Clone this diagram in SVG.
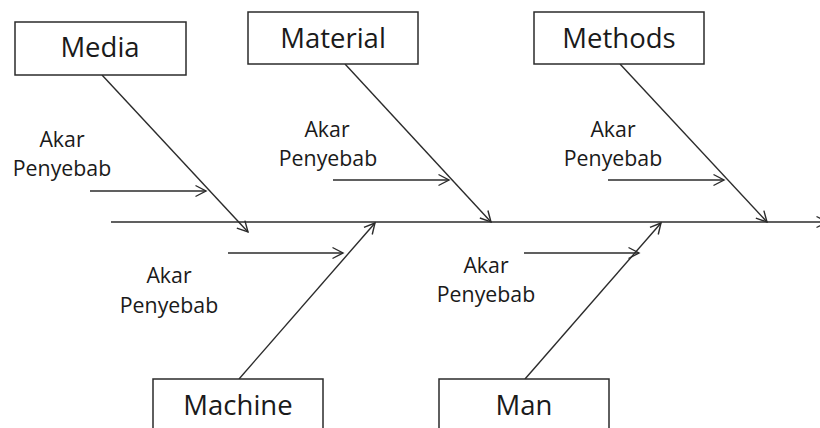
<svg xmlns="http://www.w3.org/2000/svg" width="820" height="428" viewBox="0 0 820 428">
  <style>
    .box { fill: #ffffff; stroke: #2b2b2b; stroke-width: 1.5; }
    .lbl { font-family: "Open Sans", "Liberation Sans", sans-serif; font-size: 27.5px; fill: #1a1a1a; text-anchor: middle; }
    .cause { font-family: "Open Sans", "Liberation Sans", sans-serif; font-size: 21.3px; fill: #1a1a1a; text-anchor: middle; }
    .ln { stroke: #2b2b2b; stroke-width: 1.4; fill: none; marker-end: url(#arr); }
  </style>
  <defs>
    <marker id="arr" markerUnits="userSpaceOnUse" orient="auto" refX="0" refY="0" markerWidth="20" markerHeight="20" overflow="visible">
      <path d="M-10.5,-5.5 L0,0 L-10.5,5.5" fill="none" stroke="#2b2b2b" stroke-width="1.4"/>
    </marker>
  </defs>
  <rect width="820" height="428" fill="#ffffff"/>

  <g id="connectors">
    <line class="ln" x1="111" y1="222" x2="827" y2="222"/>
    <line class="ln" x1="102" y1="75" x2="248" y2="232"/>
    <line class="ln" x1="345" y1="64" x2="491" y2="222"/>
    <line class="ln" x1="620" y1="64" x2="767" y2="222"/>
    <line class="ln" x1="239" y1="379" x2="375" y2="223"/>
    <line class="ln" x1="525" y1="379" x2="661" y2="223"/>
    <line class="ln" x1="90" y1="191" x2="206" y2="191"/>
    <line class="ln" x1="333" y1="180" x2="449" y2="180"/>
    <line class="ln" x1="608" y1="180" x2="724" y2="180"/>
    <line class="ln" x1="228" y1="253" x2="343" y2="253"/>
    <line class="ln" x1="524" y1="253" x2="639" y2="253"/>
  </g>

  <g id="media">
    <rect class="box" x="15" y="22" width="171" height="53"/>
    <text class="lbl" x="100" y="57">Media</text>
  </g>
  <g id="material">
    <rect class="box" x="248" y="12" width="170" height="52"/>
    <text class="lbl" x="333" y="48">Material</text>
  </g>
  <g id="methods">
    <rect class="box" x="534" y="12" width="170" height="52"/>
    <text class="lbl" x="619" y="48">Methods</text>
  </g>
  <g id="machine">
    <rect class="box" x="153" y="379" width="170" height="60"/>
    <text class="lbl" x="238" y="415">Machine</text>
  </g>
  <g id="man">
    <rect class="box" x="439" y="379" width="170" height="60"/>
    <text class="lbl" x="524" y="415">Man</text>
  </g>

  <g id="cause-media">
    <text class="cause" x="62" y="147">Akar</text>
    <text class="cause" x="62" y="176">Penyebab</text>
  </g>
  <g id="cause-material">
    <text class="cause" x="327" y="137">Akar</text>
    <text class="cause" x="328" y="166">Penyebab</text>
  </g>
  <g id="cause-methods">
    <text class="cause" x="613" y="137">Akar</text>
    <text class="cause" x="613" y="166">Penyebab</text>
  </g>
  <g id="cause-machine">
    <text class="cause" x="169" y="283">Akar</text>
    <text class="cause" x="169" y="313">Penyebab</text>
  </g>
  <g id="cause-man">
    <text class="cause" x="486" y="273">Akar</text>
    <text class="cause" x="486" y="302">Penyebab</text>
  </g>
</svg>
